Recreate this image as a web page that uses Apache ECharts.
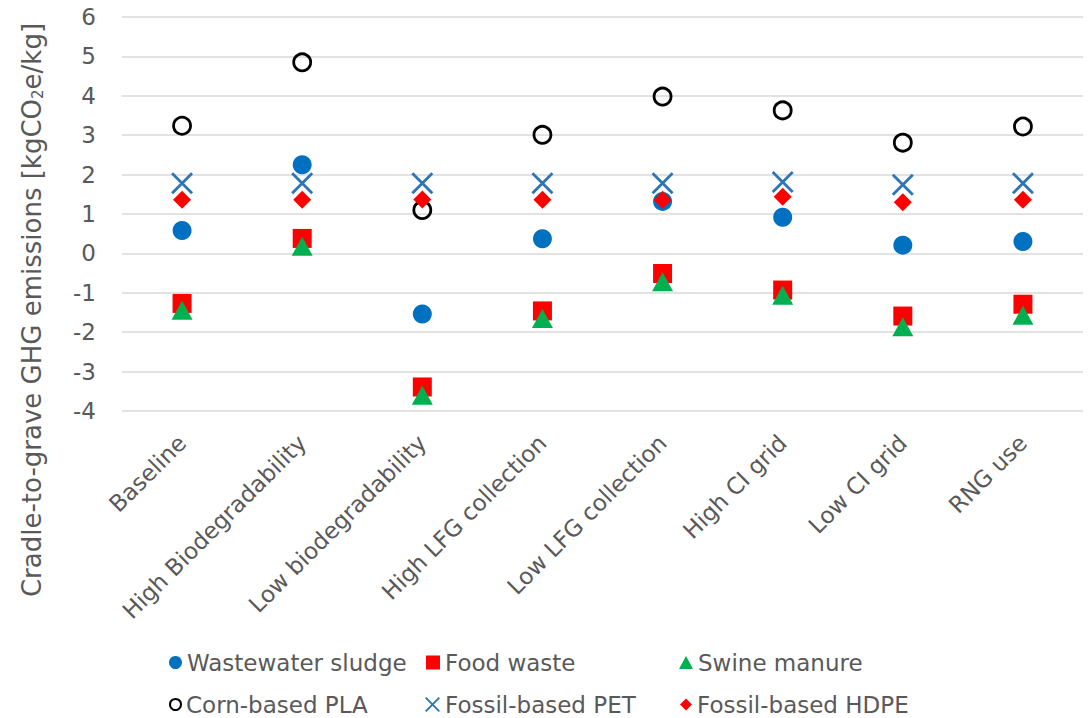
<!DOCTYPE html>
<html>
<head>
<meta charset="utf-8">
<script src="https://cdn.jsdelivr.net/npm/echarts@6/dist/echarts.min.js"></script>
<style>
  html, body { margin: 0; padding: 0; background: #fff; }
  #chart { width: 1089px; height: 718px; }
</style>
</head>
<body>
<div id="chart"></div>
<script>
// Scenario names on the category axis
const scenarios = [
  'Baseline', 'High Biodegradability', 'Low biodegradability',
  'High LFG collection', 'Low LFG collection', 'High CI grid',
  'Low CI grid', 'RNG use'
];

// Cradle-to-grave GHG emissions, kgCO2e/kg, per scenario
const wastewaterSludge = [0.58, 2.25, -1.54, 0.37, 1.32, 0.92, 0.21, 0.30];
const foodWaste        = [-1.27, 0.38, -3.39, -1.46, -0.51, -0.93, -1.59, -1.29];
const swineManure      = [-1.44, 0.18, -3.60, -1.65, -0.72, -1.06, -1.86, -1.57];
const cornPLA          = [3.24, 4.85, 1.10, 3.01, 3.98, 3.63, 2.81, 3.22];
const fossilPET        = [1.78, 1.78, 1.78, 1.78, 1.78, 1.81, 1.74, 1.78];
const fossilHDPE       = [1.36, 1.36, 1.37, 1.36, 1.36, 1.44, 1.30, 1.36];

// Y axis range
const yMin = -4;
const yMax = 6;
const yStep = 1;

const FONT = 'DejaVu Sans';
const GREY = '#595959';

// Thin "x" marker built from two crossing bars
const crossPath = 'path://M0,2L2,0L22,20L20,22Z M20,0L22,2L2,22L0,20Z';

const seriesDefs = [
  { name: 'Wastewater sludge', data: wastewaterSludge, symbol: 'circle', size: 19,
    itemStyle: { color: '#0070C0' } },
  { name: 'Food waste', data: foodWaste, symbol: 'rect', size: 19,
    itemStyle: { color: '#FF0000' } },
  { name: 'Swine manure', data: swineManure, symbol: 'triangle', size: [21, 19],
    itemStyle: { color: '#00B050' } },
  { name: 'Corn-based PLA', data: cornPLA, symbol: 'circle', size: 17,
    itemStyle: { color: 'rgba(255,255,255,0)', borderColor: '#000000', borderWidth: 2.8 } },
  { name: 'Fossil-based PET', data: fossilPET, symbol: crossPath, size: 22,
    itemStyle: { color: '#2E75B6' } },
  { name: 'Fossil-based HDPE', data: fossilHDPE, symbol: 'diamond', size: 18,
    itemStyle: { color: '#FF0000' } }
];

// Legend laid out as a 3 x 2 table
const legendSlots = [
  { left: 169, top: 651, icon: 'circle', w: 13, h: 13 },
  { left: 426, top: 651, icon: 'rect', w: 14, h: 14 },
  { left: 679, top: 651, icon: 'triangle', w: 14, h: 13 },
  { left: 169, top: 693, icon: 'circle', w: 11, h: 11 },
  { left: 425, top: 693, icon: crossPath, w: 15, h: 15 },
  { left: 680, top: 693, icon: 'diamond', w: 12, h: 12 }
];

const legends = seriesDefs.map((s, i) => ({
  left: legendSlots[i].left,
  top: legendSlots[i].top,
  padding: 0,
  orient: 'horizontal',
  itemWidth: legendSlots[i].w,
  itemHeight: legendSlots[i].h,
  itemGap: 4,
  selectedMode: false,
  data: [{ name: s.name, icon: legendSlots[i].icon }],
  textStyle: { fontFamily: FONT, fontSize: 23, color: GREY, padding: [0, 0, 0, 0] }
}));

const chart = echarts.init(document.getElementById('chart'), null, { renderer: 'svg' });

chart.setOption({
  backgroundColor: '#ffffff',
  animation: false,
  grid: { left: 122, right: 6, top: 17, bottom: 307, containLabel: false },
  legend: legends,
  xAxis: {
    type: 'category',
    data: scenarios,
    boundaryGap: true,
    axisLine: { show: false },
    axisTick: { show: false },
    axisLabel: {
      interval: 0,
      rotate: 45,
      margin: 28,
      fontFamily: FONT,
      fontSize: 23,
      color: GREY
    }
  },
  yAxis: {
    type: 'value',
    min: yMin,
    max: yMax,
    interval: yStep,
    axisLine: { show: false },
    axisTick: { show: false },
    splitLine: { lineStyle: { color: '#D9D9D9', width: 1.5 } },
    axisLabel: {
      margin: 26,
      fontFamily: FONT,
      fontSize: 23,
      color: GREY
    }
  },
  graphic: [{
    type: 'text',
    x: 32,
    y: 310,
    rotation: Math.PI / 2,
    style: {
      text: '{t|Cradle-to-grave GHG emissions [kgCO}{s|2}{t|e/kg]}',
      align: 'center',
      verticalAlign: 'middle',
      rich: {
        t: { fontFamily: FONT, fontSize: 26, fill: GREY },
        s: { fontFamily: FONT, fontSize: 15, fill: GREY, padding: [12, 0, 0, 0] }
      }
    }
  }],
  series: seriesDefs.map(s => ({
    name: s.name,
    type: 'scatter',
    data: s.data,
    symbol: s.symbol,
    symbolSize: s.size,
    itemStyle: Object.assign({ opacity: 1 }, s.itemStyle),
    emphasis: { disabled: true }
  }))
});
</script>
</body>
</html>
